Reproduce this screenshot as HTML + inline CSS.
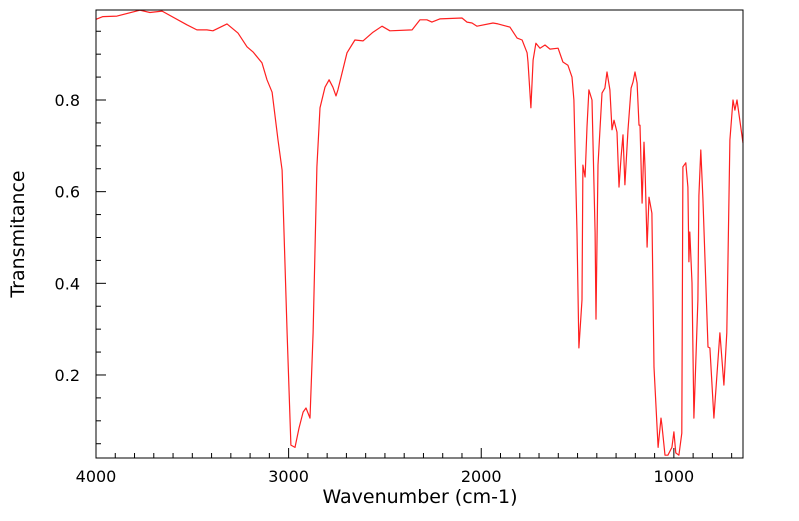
<!DOCTYPE html>
<html><head><meta charset="utf-8"><style>
body{margin:0;background:#fff;width:799px;height:516px;overflow:hidden}
svg text{font-family:"DejaVu Sans","Liberation Sans",sans-serif;fill:#000}
</style></head><body>
<svg id="chart" width="799" height="516" viewBox="0 0 799 516" xmlns="http://www.w3.org/2000/svg">
<g id="axes"></g>
<path id="line" fill="none" stroke="#ff2020" stroke-width="1.2" stroke-linejoin="round"></path>
<rect x="96" y="10" width="647" height="448" fill="none" stroke="#000" stroke-width="1"></rect>
<text x="420" y="503" font-size="19" text-anchor="middle">Wavenumber (cm-1)</text>
<text x="0" y="0" font-size="19" text-anchor="middle" transform="translate(24,234) rotate(-90)">Transmitance</text>
</svg>
<script>
const wavenumbers=[4000,3964,3891,3772,3720,3657,3528,3476,3424,3393,3320,3263,3216,3185,3138,3112,3086,3055,3034,3008,2988,2967,2946,2925,2910,2889,2873,2853,2837,2811,2790,2770,2754,2744,2697,2656,2614,2562,2515,2474,2359,2318,2282,2256,2215,2100,2074,2048,2022,1939,1913,1851,1814,1788,1762,1757,1742,1731,1716,1695,1669,1643,1601,1576,1550,1529,1519,1503,1493,1477,1472,1461,1451,1441,1425,1409,1404,1394,1373,1358,1347,1332,1321,1311,1295,1285,1274,1264,1254,1238,1222,1212,1202,1191,1181,1176,1165,1155,1150,1139,1129,1114,1103,1082,1067,1062,1046,1031,1010,1000,990,974,959,953,938,927,922,917,906,896,875,870,860,849,823,813,792,761,740,725,709,693,683,672,641];
const transmittance=[0.976,0.982,0.983,0.996,0.991,0.994,0.964,0.953,0.953,0.951,0.966,0.946,0.916,0.905,0.881,0.844,0.817,0.713,0.647,0.292,0.047,0.042,0.084,0.119,0.128,0.106,0.292,0.654,0.783,0.828,0.844,0.828,0.809,0.822,0.903,0.931,0.929,0.948,0.961,0.951,0.953,0.975,0.975,0.970,0.977,0.979,0.970,0.968,0.961,0.968,0.966,0.959,0.935,0.931,0.903,0.883,0.783,0.887,0.924,0.913,0.920,0.911,0.913,0.883,0.876,0.850,0.800,0.510,0.259,0.364,0.658,0.632,0.741,0.822,0.800,0.510,0.322,0.658,0.815,0.826,0.861,0.822,0.735,0.756,0.730,0.610,0.676,0.724,0.615,0.735,0.826,0.839,0.861,0.837,0.745,0.745,0.575,0.708,0.654,0.479,0.588,0.553,0.217,0.042,0.106,0.091,0.025,0.025,0.042,0.076,0.030,0.025,0.073,0.654,0.663,0.610,0.447,0.512,0.401,0.106,0.364,0.591,0.691,0.586,0.261,0.259,0.106,0.292,0.178,0.292,0.713,0.800,0.778,0.800,0.706];
const xTicks=[4000,3000,2000,1000];
const yTicks=[0.2,0.4,0.6,0.8];
const X0=96,X1=743,Y0=10,Y1=458;
function xs(w){return X0+(4000-w)*0.19262;}
function ys(t){return 100+(0.8-t)*458.3;}
const NS="http://www.w3.org/2000/svg";
const axes=document.getElementById('axes');
function ln(x1,y1,x2,y2,name){const l=document.createElementNS(NS,'line');
l.setAttribute('x1',x1);l.setAttribute('y1',y1);l.setAttribute('x2',x2);l.setAttribute('y2',y2);
l.setAttribute('stroke','#000');l.setAttribute('stroke-width','1');


axes.appendChild(l);}
for(let w=4000;w>=700;w-=100){const x=xs(w);const major=(w%1000===0);ln(x,Y1,x,Y1-(major?10:5),major?'x-major-tick':'x-minor-tick');}
for(let k=0;k<20;k++){const t=k*0.05;const y=ys(t);if(y<Y0||y>Y1)continue;const major=(k%4===0);ln(X0,y,X0+(major?10:5),y,major?'y-major-tick':'y-minor-tick');}
xTicks.forEach(w=>{const t=document.createElementNS(NS,'text');t.setAttribute('x',xs(w));t.setAttribute('y',482);t.setAttribute('font-size','16');t.setAttribute('text-anchor','middle');t.textContent=String(w);


axes.appendChild(t);});
yTicks.forEach(v=>{const t=document.createElementNS(NS,'text');t.setAttribute('x',80);t.setAttribute('y',ys(v)+6);t.setAttribute('font-size','16');t.setAttribute('text-anchor','end');t.textContent=v.toFixed(1);


axes.appendChild(t);});
let d='';
wavenumbers.forEach((w,i)=>{d+=(i?'L':'M')+xs(w).toFixed(1)+','+ys(transmittance[i]).toFixed(1);});
document.getElementById('line').setAttribute('d',d);
</script>
</body></html>
